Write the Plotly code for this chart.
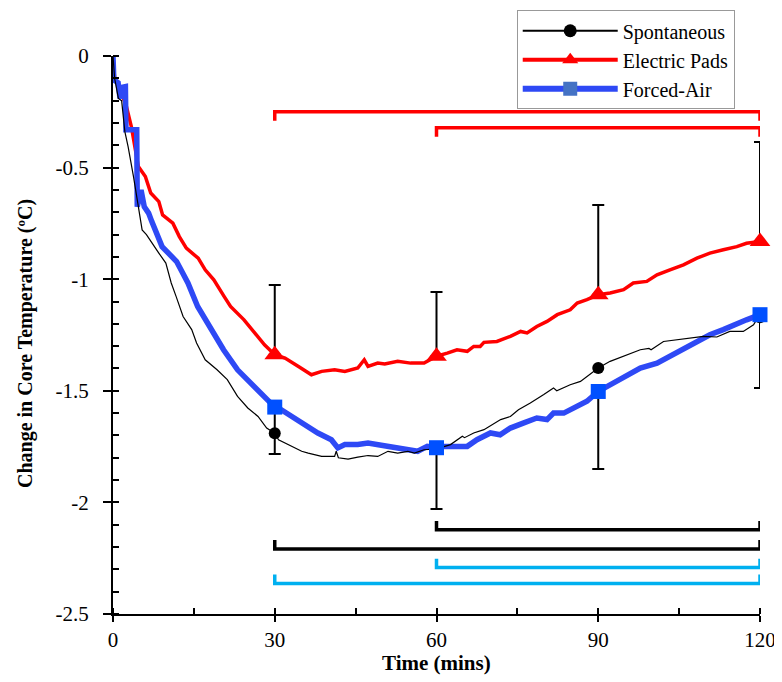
import plotly.graph_objects as go

# ---- data ------------------------------------------------------------------
spont_t = [0, 0.3, 1.0, 1.6, 2.2, 2.8, 3.8, 4.7, 5.4, 6.2, 7.0, 8.5, 9.8, 10.8,
           11.7, 13.0, 14.6, 15.5, 17.1, 19.3, 21.2, 23.1, 25.0, 26.9, 28.5, 30,
           30.7, 33.1, 35.0, 36.2, 38.7, 41.1, 41.4, 41.8, 43.6, 45.4, 47.3, 49.1,
           51.0, 52.8, 54.7, 55.9, 57.7, 60, 62.6, 64.8, 65.2, 66.9, 68.8, 71.9,
           73.7, 75.2, 77.4, 79.9, 81.7, 82.3, 84.8, 86.7, 87.9, 90, 92.2, 94.7,
           97.8, 99.4, 99.8, 102.1, 104.6, 107.0, 109.5, 112.0, 114.4, 116.9,
           118.8, 119.4, 120]
spont_y = [0, -0.10, -0.19, -0.20, -0.339, -0.406, -0.54, -0.675, -0.779, -0.80,
           -0.831, -0.883, -0.928, -1.017, -1.077, -1.167, -1.226, -1.286, -1.361,
           -1.406, -1.45, -1.525, -1.577, -1.615, -1.667, -1.69, -1.719, -1.749,
           -1.771, -1.779, -1.794, -1.794, -1.771, -1.80, -1.806, -1.797, -1.79,
           -1.794, -1.771, -1.779, -1.771, -1.779, -1.764, -1.76, -1.741, -1.704,
           -1.71, -1.689, -1.674, -1.629, -1.615, -1.585, -1.555, -1.517, -1.487,
           -1.50, -1.473, -1.458, -1.436, -1.398, -1.368, -1.346, -1.316, -1.31,
           -1.316, -1.279, -1.271, -1.264, -1.256, -1.259, -1.234, -1.234, -1.204,
           -1.18, -1.17]

pads_t = [0, 0.3, 1.2, 2.5, 3.4, 4.7, 6.0, 7.0, 8.5, 9.2, 11.1, 12.3, 13.6, 15.8,
          17.1, 18.7, 20.6, 21.8, 24.3, 26.2, 28.1, 30, 31.9, 34.4, 36.8, 38.7,
          41.1, 43.0, 45.4, 46.6, 47.3, 49.1, 50.4, 52.8, 55.2, 57.7, 58.9, 60,
          62.0, 63.8, 65.7, 66.9, 68.1, 68.8, 71.2, 73.7, 75.6, 76.8, 78.6, 80.5,
          82.4, 84.8, 86.1, 87.9, 90, 92.2, 94.7, 96.5, 99.0, 100.9, 103.3, 105.8,
          108.3, 110.7, 113.2, 115.7, 117.5, 120]
pads_y = [0, -0.10, -0.14, -0.227, -0.316, -0.495, -0.54, -0.614, -0.652, -0.712,
          -0.749, -0.809, -0.861, -0.906, -0.958, -1.003, -1.077, -1.122, -1.182,
          -1.241, -1.294, -1.338, -1.353, -1.391, -1.428, -1.413, -1.406, -1.413,
          -1.398, -1.361, -1.391, -1.376, -1.38, -1.368, -1.376, -1.376, -1.361,
          -1.345, -1.331, -1.316, -1.323, -1.301, -1.301, -1.283, -1.279, -1.256,
          -1.234, -1.241, -1.212, -1.189, -1.159, -1.137, -1.107, -1.092, -1.07,
          -1.062, -1.047, -1.017, -1.01, -0.98, -0.958, -0.936, -0.906, -0.883,
          -0.868, -0.854, -0.839, -0.831]

air_t = [0, 0.15, 0.95, 1.3, 1.7, 2.3, 2.4, 4.4, 4.5, 5.2, 5.8, 6.6, 7.2, 9.1,
         11.8, 13.9, 15.7, 18.0, 20.5, 23.1, 26.2, 28.7, 30, 30.7, 33.1, 35.6,
         38.0, 40.5, 41.7, 43.0, 45.4, 47.3, 49.1, 51.0, 54.0, 56.5, 58.3, 60,
         61.4, 65.7, 67.5, 70.0, 71.8, 73.7, 76.2, 78.6, 80.5, 81.7, 83.6, 85.4,
         87.9, 90, 92.8, 95.3, 97.8, 100.9, 103.3, 105.8, 108.3, 110.7, 113.2,
         115.7, 117.5, 120]
air_y = [0, -0.107, -0.12, -0.19, -0.14, -0.137, -0.33, -0.33, -0.675, -0.60,
         -0.675, -0.704, -0.742, -0.854, -0.921, -1.017, -1.122, -1.212, -1.316,
         -1.406, -1.48, -1.54, -1.573, -1.577, -1.615, -1.652, -1.689, -1.719,
         -1.756, -1.741, -1.741, -1.734, -1.741, -1.749, -1.756, -1.771, -1.749,
         -1.755, -1.749, -1.749, -1.719, -1.689, -1.697, -1.667, -1.644, -1.622,
         -1.629, -1.60, -1.60, -1.577, -1.547, -1.503, -1.465, -1.436, -1.398,
         -1.376, -1.346, -1.316, -1.279, -1.249, -1.226, -1.197, -1.182, -1.159]

mark_t = [30, 60, 90, 120]
spont_mark = [-1.69, -1.76, -1.398, -1.17]
pads_mark = [-1.338, -1.345, -1.07, -0.831]
air_mark = [-1.573, -1.755, -1.503, -1.159]
pads_err_up = [0.312, 0.288, 0.402, 0.446]
air_err_down = [0.21, 0.275, 0.347, 0.328]

# significance brackets: start time, end time, level, hook direction, colour
br_start = [30, 60, 60, 30, 60, 30]
br_end = [120, 120, 120, 120, 120, 120]
br_level = [-0.25, -0.322, -2.123, -2.209, -2.292, -2.363]
br_hook = [-0.04, -0.04, 0.04, 0.04, 0.04, 0.04]
br_color = ["#ff0000", "#ff0000", "#000000", "#000000", "#00b0f0", "#00b0f0"]

FONT = "Times New Roman, Liberation Serif, serif"
BLUE_LINE = "#2e49f5"
BLUE_MARK = "#0050ff"

fig = go.Figure()

for x0, x1, lv, hk, col in zip(br_start, br_end, br_level, br_hook, br_color):
    fig.add_trace(go.Scatter(
        x=[x0, x0, x1, x1], y=[lv + hk, lv, lv, lv + hk], mode="lines",
        line=dict(color=col, width=3.5), showlegend=False, cliponaxis=False,
        hoverinfo="skip",
    ))

fig.add_trace(go.Scatter(x=pads_t, y=pads_y, mode="lines",
                         line=dict(color="#ff0000", width=3.5), showlegend=False))
fig.add_trace(go.Scatter(x=air_t, y=air_y, mode="lines",
                         line=dict(color=BLUE_LINE, width=5.5), showlegend=False))
fig.add_trace(go.Scatter(x=spont_t, y=spont_y, mode="lines",
                         line=dict(color="#000000", width=1.2), showlegend=False))

fig.add_trace(go.Scatter(
    x=mark_t, y=spont_mark, mode="markers", showlegend=False, cliponaxis=False,
    marker=dict(symbol="circle", size=12, color="#000000"),
))
fig.add_trace(go.Scatter(
    x=mark_t, y=pads_mark, mode="markers", showlegend=False, cliponaxis=False,
    marker=dict(symbol="triangle-up", size=18, color="#ff0000"),
    error_y=dict(type="data", symmetric=False, array=pads_err_up,
                 arrayminus=[0, 0, 0, 0], color="#000000", thickness=2, width=6),
))
fig.add_trace(go.Scatter(
    x=mark_t, y=air_mark, mode="markers", showlegend=False, cliponaxis=False,
    marker=dict(symbol="square", size=15, color=BLUE_MARK),
    error_y=dict(type="data", symmetric=False, array=[0, 0, 0, 0],
                 arrayminus=air_err_down, color="#000000", thickness=2, width=6),
))

# legend-only entries
fig.add_trace(go.Scatter(x=[None], y=[None], mode="lines+markers", name="Spontaneous",
                         line=dict(color="#000000", width=2),
                         marker=dict(symbol="circle", size=13, color="#000000")))
fig.add_trace(go.Scatter(x=[None], y=[None], mode="lines+markers", name="Electric Pads",
                         line=dict(color="#ff0000", width=4),
                         marker=dict(symbol="triangle-up", size=14, color="#ff0000")))
fig.add_trace(go.Scatter(x=[None], y=[None], mode="lines+markers", name="Forced-Air",
                         line=dict(color=BLUE_LINE, width=6),
                         marker=dict(symbol="square", size=14, color="#4472c4")))

# the page body adds an 8px offset, so the figure is sized to fit inside it
fig.update_layout(
    width=774,
    height=674,
    margin=dict(l=105, r=22, t=48, b=68, autoexpand=False),
    paper_bgcolor="white",
    plot_bgcolor="white",
    font=dict(family=FONT, color="#000000", size=20),
    legend=dict(
        x=0.624, y=1.082, xanchor="left", yanchor="top",
        bordercolor="#999999", borderwidth=1, bgcolor="white",
        font=dict(family=FONT, size=20), itemwidth=95, tracegroupgap=0,
    ),
    annotations=[
        dict(text="<b>Change in Core Temperature (ºC)</b>", textangle=-90,
             xref="paper", yref="paper", x=-0.135, y=0.485, showarrow=False,
             xanchor="center", yanchor="middle", font=dict(family=FONT, size=20)),
        dict(text="<b>Time (mins)</b>", xref="paper", yref="paper", x=0.5, y=-0.087,
             xanchor="center", yanchor="middle", showarrow=False,
             font=dict(family=FONT, size=21)),
    ],
)
fig.update_xaxes(
    range=[0, 120], tickmode="array", tickvals=[0, 30, 60, 90, 120],
    ticktext=["0", "30", "60", "90", "120"],
    showline=True, linecolor="#000000", linewidth=2, showgrid=False, zeroline=False,
    ticks="outside", ticklen=6, tickwidth=2, tickcolor="#000000", ticklabelstandoff=0,
    minor=dict(tickmode="linear", tick0=0, dtick=15, ticks="inside", ticklen=6,
               tickwidth=1.5, tickcolor="#000000"),
    tickfont=dict(family=FONT, size=21),
)
fig.update_yaxes(
    range=[-2.5, 0], tickmode="array", tickvals=[0, -0.5, -1, -1.5, -2, -2.5],
    ticktext=["0", "-0.5", "-1", "-1.5", "-2", "-2.5"],
    showline=True, linecolor="#000000", linewidth=2, showgrid=False, zeroline=False,
    ticks="outside", ticklen=8, tickwidth=2, tickcolor="#000000", ticklabelstandoff=10,
    minor=dict(tickmode="linear", tick0=0, dtick=0.1, ticks="inside", ticklen=6,
               tickwidth=1.5, tickcolor="#000000"),
    tickfont=dict(family=FONT, size=21),
)

fig.write_html("out.html")
